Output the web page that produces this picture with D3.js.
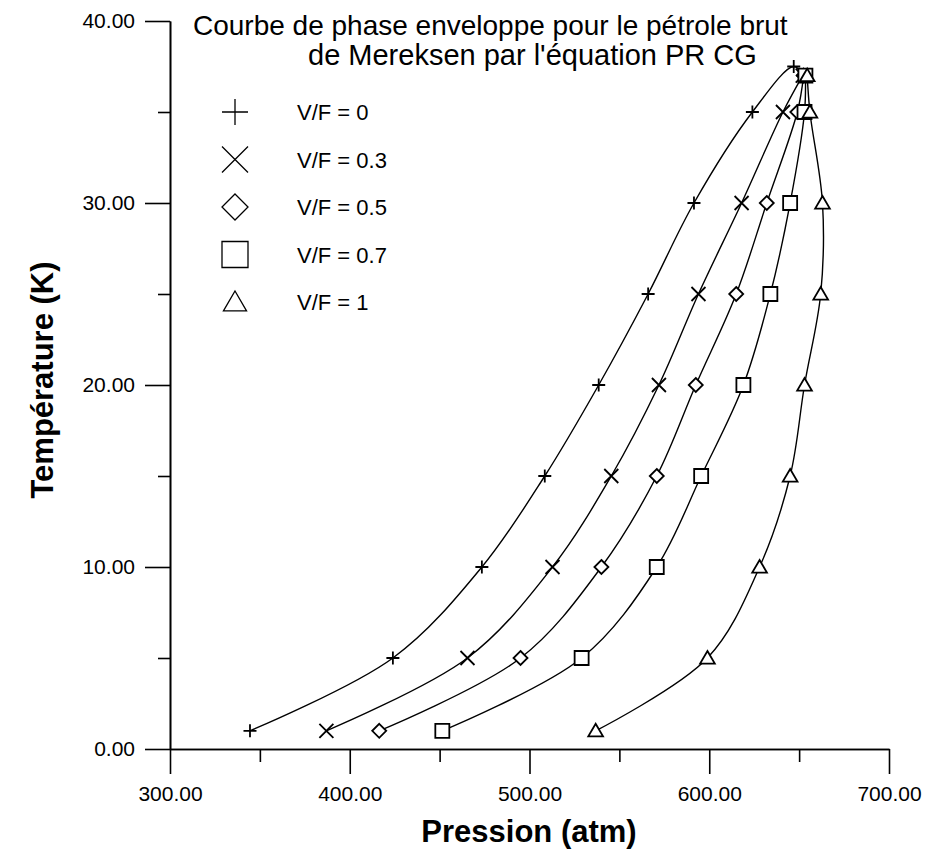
<!DOCTYPE html>
<html>
<head>
<meta charset="utf-8">
<script src="https://cdn.jsdelivr.net/npm/d3@7"></script>
<style>
  body { margin: 0; background: #fff; }
  svg { font-family: "Liberation Sans", Arial, sans-serif; }
</style>
</head>
<body>
<div id="chart"></div>
<script>
// values: pressure (atm) per temperature step
var seriesNames = ['V/F = 0', 'V/F = 0.3', 'V/F = 0.5', 'V/F = 0.7', 'V/F = 1'];
var symbols = ['plus', 'times', 'diamond', 'square', 'triangle'];

var temp0 = [1, 5, 10, 15, 20, 25, 30, 35, 37.5, 37];
var pres0 = [344.5, 424, 473.5, 508.5, 538.5, 566, 591.5, 624, 647, 652];

var temp03 = [1, 5, 10, 15, 20, 25, 30, 35, 37];
var pres03 = [387, 465.5, 512.8, 545.5, 572, 594, 618, 641, 652];

var temp05 = [1, 5, 10, 15, 20, 25, 30, 35, 37];
var pres05 = [416.4, 495, 540, 570.8, 592.5, 615, 632, 649, 652.5];

var temp07 = [1, 5, 10, 15, 20, 25, 30, 35, 37];
var pres07 = [451.5, 529, 570.8, 595.5, 619, 634, 645, 653, 653.5];

var temp1 = [1, 5, 10, 15, 20, 25, 30, 35, 37];
var pres1 = [536.8, 599, 628, 645, 653, 662, 663, 656, 654.5];

var xTicks = [300, 400, 500, 600, 700];
var xMinor = [350, 450, 550, 650];
var yTicks = [0, 10, 20, 30, 40];
var yMinor = [5, 15, 25, 35];

var titleLines = ['Courbe de phase enveloppe pour le pétrole brut', 'de Mereksen par l\'équation PR CG'];

var width = 927, height = 855;

var series = [
  {name: seriesNames[0], sym: symbols[0], p: pres0, t: temp0},
  {name: seriesNames[1], sym: symbols[1], p: pres03, t: temp03},
  {name: seriesNames[2], sym: symbols[2], p: pres05, t: temp05},
  {name: seriesNames[3], sym: symbols[3], p: pres07, t: temp07},
  {name: seriesNames[4], sym: symbols[4], p: pres1, t: temp1}
];

var x = d3.scaleLinear().domain([300, 700]).range([170, 889]);
var y = d3.scaleLinear().domain([0, 40]).range([749, 21]);

// open marker shapes, s = half size
function symbolPath(type, s){
  switch(type){
    case 'plus': return 'M'+(-s)+',0H'+s+'M0,'+(-s)+'V'+s;
    case 'times': return 'M'+(-s)+','+(-s)+'L'+s+','+s+'M'+(-s)+','+s+'L'+s+','+(-s);
    case 'diamond': return 'M0,'+(-s)+'L'+s+',0L0,'+s+'L'+(-s)+',0Z';
    case 'square': return 'M'+(-s)+','+(-s)+'H'+s+'V'+s+'H'+(-s)+'Z';
    case 'triangle': return 'M0,'+(-s)+'L'+(s*1.05)+','+(s*0.8)+'H'+(-s*1.05)+'Z';
  }
}

var svg = d3.select('#chart')
  .append('svg')
  .attr('width', width)
  .attr('height', height);

// axes
svg.append('g')
  .attr('transform', 'translate(170,0)')
  .call(d3.axisLeft(y).tickValues(yTicks).tickSize(25).tickSizeOuter(0)
    .tickPadding(10).tickFormat(d3.format('.2f')));

svg.append('g')
  .attr('transform', 'translate(170,0)')
  .call(d3.axisLeft(y).tickValues(yMinor).tickSize(12).tickSizeOuter(0).tickFormat(''));

svg.append('g')
  .attr('transform', 'translate(0,749)')
  .call(d3.axisBottom(x).tickValues(xTicks).tickSize(25).tickSizeOuter(0)
    .tickPadding(12).tickFormat(d3.format('.2f')));

svg.append('g')
  .attr('transform', 'translate(0,749)')
  .call(d3.axisBottom(x).tickValues(xMinor).tickSize(13).tickSizeOuter(0).tickFormat(''));

svg.selectAll('.domain, .tick line')
  .attr('stroke', '#000')
  .attr('stroke-width', 1.6);

svg.selectAll('.tick text')
  .attr('fill', '#000')
  .style('font-size', '21px');

// axis titles
svg.append('text')
  .attr('x', 529)
  .attr('y', 842)
  .attr('text-anchor', 'middle')
  .style('font-size', '31px')
  .style('font-weight', 'bold')
  .text('Pression (atm)');

svg.append('text')
  .attr('transform', 'translate(53,380) rotate(-90)')
  .attr('text-anchor', 'middle')
  .style('font-size', '31px')
  .style('font-weight', 'bold')
  .text('Température (K)');

// title, second line set a bit right as in the scan
svg.selectAll('.title')
  .data(titleLines)
  .enter()
  .append('text')
  .classed('title', true)
  .attr('x', function(d, i){ return i ? 308 : 193 })
  .attr('y', function(d, i){ return 35 + i*30 })
  .style('font-size', function(d, i){ return i ? '29px' : '28px' })
  .text(function(d){ return d });

// curves
var line = d3.line()
  .x(function(d){ return x(d[0]) })
  .y(function(d){ return y(d[1]) })
  .curve(d3.curveCatmullRom.alpha(0.5));

series.forEach(function(s){
  var pts = s.p.map(function(p, i){ return [p, s.t[i]] });

  svg.append('path')
    .attr('d', line(pts))
    .attr('fill', 'none')
    .attr('stroke', '#000')
    .attr('stroke-width', 1.4);

  svg.selectAll('.m-' + s.sym)
    .data(pts)
    .enter()
    .append('path')
    .classed('m-' + s.sym, true)
    .attr('transform', function(d){ return 'translate(' + x(d[0]) + ',' + y(d[1]) + ')' })
    .attr('d', symbolPath(s.sym, s.sym == 'plus' ? 6.5 : 7))
    .attr('fill', s.sym == 'plus' || s.sym == 'times' ? 'none' : '#fff')
    .attr('stroke', '#000')
    .attr('stroke-width', 1.8);
});

// legend
var legend = svg.selectAll('.legend')
  .data(series)
  .enter()
  .append('g')
  .classed('legend', true)
  .attr('transform', function(d, i){ return 'translate(235,' + (112 + i*47.5) + ')' });

legend.append('path')
  .attr('d', function(d){ return symbolPath(d.sym, d.sym == 'triangle' ? 11 : 13) })
  .attr('fill', 'none')
  .attr('stroke', '#000')
  .attr('stroke-width', 1.3);

legend.append('text')
  .attr('x', 62)
  .attr('y', 8)
  .style('font-size', '22px')
  .text(function(d){ return d.name });
</script>
</body>
</html>
